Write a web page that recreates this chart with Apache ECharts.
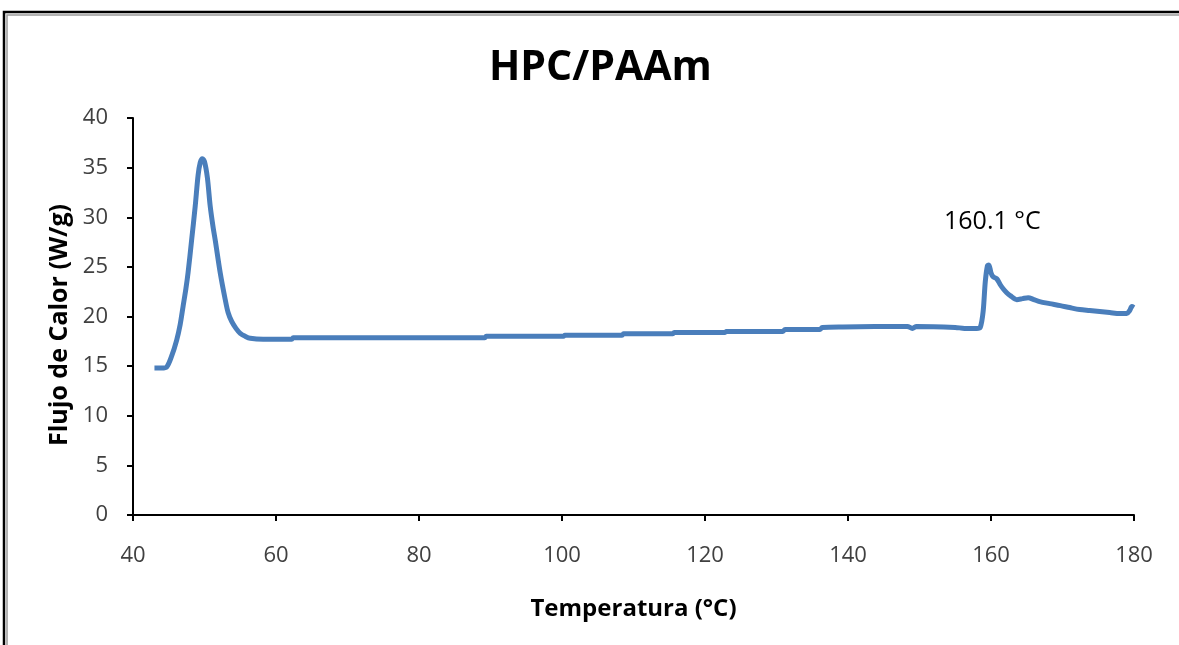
<!DOCTYPE html>
<html>
<head>
<meta charset="utf-8">
<script src="https://cdn.jsdelivr.net/npm/echarts@6/dist/echarts.min.js"></script>
<style>
html,body{margin:0;padding:0;background:#fff;}
#chart{width:1179px;height:645px;}
</style>
</head>
<body>
<div id="chart"></div>
<script>
const chartTitle = "HPC/PAAm";
const xName = "Temperatura (°C)";
const yName = "Flujo de Calor (W/g)";
const annotation = "160.1 °C";

const temperature = [
  43.0, 44.0, 44.7, 45.4, 46.1, 46.6, 47.0, 47.4, 47.7, 48.2, 48.7, 49.1, 49.4, 49.7,
  50.0, 50.4, 50.8, 51.2, 51.5, 52.2, 52.9, 53.3, 53.8, 54.4, 55.0, 55.7, 56.4, 58.2,
  60.0, 62.2, 62.4, 89.2, 89.4, 100.2, 100.4, 108.4, 108.6, 115.5, 115.7, 122.8, 123.0,
  130.9, 131.2, 136.1, 136.4, 139.3, 148.3, 149.0, 149.6, 155.0, 156.3, 158.0, 158.5,
  158.9, 159.2, 159.5, 159.7, 160.0, 160.3, 160.8, 161.3, 161.7, 162.2, 162.7, 163.6,
  164.4, 165.2, 166.0, 166.8, 168.2, 169.7, 171.0, 172.4, 173.8, 175.2, 176.6, 178.0,
  179.0, 179.4, 179.7, 180.0
];
const heatFlow = [
  14.8, 14.8, 14.9, 16.0, 17.6, 19.2, 21.0, 22.8, 24.4, 27.7, 31.1, 34.2, 35.5, 35.9,
  35.6, 34.0, 31.1, 29.0, 27.7, 24.4, 21.7, 20.4, 19.5, 18.8, 18.3, 18.0, 17.8, 17.7,
  17.7, 17.7, 17.85, 17.85, 18.0, 18.0, 18.1, 18.1, 18.25, 18.25, 18.4, 18.4, 18.5,
  18.5, 18.7, 18.7, 18.9, 18.95, 19.0, 18.8, 19.0, 18.9, 18.8, 18.8, 18.9,
  20.5, 23.5, 25.1, 25.2, 24.4, 24.0, 23.8, 23.2, 22.8, 22.4, 22.1, 21.7,
  21.8, 21.9, 21.7, 21.5, 21.3, 21.1, 20.9, 20.7, 20.6, 20.5, 20.4, 20.3,
  20.3, 20.6, 21.0, 20.9
];

const seriesData = temperature.map((t, i) => [t, heatFlow[i]]);

const chart = echarts.init(document.getElementById('chart'), null, {renderer: 'canvas'});
const fontFam = '"Open Sans", "Noto Sans", sans-serif';
chart.setOption({
  backgroundColor: '#ffffff',
  animation: false,
  title: {
    text: chartTitle,
    left: 484,
    top: 43,
    textStyle: {fontFamily: fontFam, fontWeight: 'bold', fontSize: 41, color: '#000'}
  },
  grid: {left: 133, right: 45, top: 118, bottom: 130, containLabel: false},
  xAxis: {
    type: 'value', min: 40, max: 180, interval: 20,
    name: xName, nameLocation: 'middle', nameGap: 82,
    nameTextStyle: {fontFamily: fontFam, fontWeight: 'bold', fontSize: 24, color: '#000'},
    axisLine: {lineStyle: {color: '#000', width: 2}},
    axisTick: {show: true, inside: false, length: 6, lineStyle: {color: '#000', width: 2}},
    axisLabel: {fontFamily: fontFam, fontSize: 22, color: '#404040', margin: 30},
    splitLine: {show: false}
  },
  yAxis: {
    type: 'value', min: 0, max: 40, interval: 5,
    axisLine: {show: true, lineStyle: {color: '#000', width: 2}},
    axisTick: {show: true, inside: false, length: 6, lineStyle: {color: '#000', width: 2}},
    axisLabel: {fontFamily: fontFam, fontSize: 22, color: '#404040', margin: 25},
    splitLine: {show: false}
  },
  graphic: [
    {type: 'rect', shape: {x: 4, y: 12, width: 1300, height: 800}, style: {fill: 'none', stroke: '#000', lineWidth: 2.5}, z: 100},
    {type: 'rect', shape: {x: 7, y: 15, width: 1300, height: 800}, style: {fill: 'none', stroke: '#9a9a9a', lineWidth: 1.5}, z: 100},
    {type: 'text', x: 60, y: 325, rotation: Math.PI / 2,
     style: {text: yName, fontFamily: fontFam, fontWeight: 'bold', fontSize: 25, fill: '#000', align: 'center', verticalAlign: 'middle'}, z: 100},
    {type: 'text', left: 944, top: 209, style: {text: annotation, fontFamily: fontFam, fontSize: 25, fill: '#000'}, z: 100}
  ],
  series: [{
    type: 'line',
    data: seriesData,
    showSymbol: false,
    smooth: 0.3,
    lineStyle: {color: '#4a7ebb', width: 5},
    itemStyle: {color: '#4a7ebb'}
  }]
});
</script>
</body>
</html>
